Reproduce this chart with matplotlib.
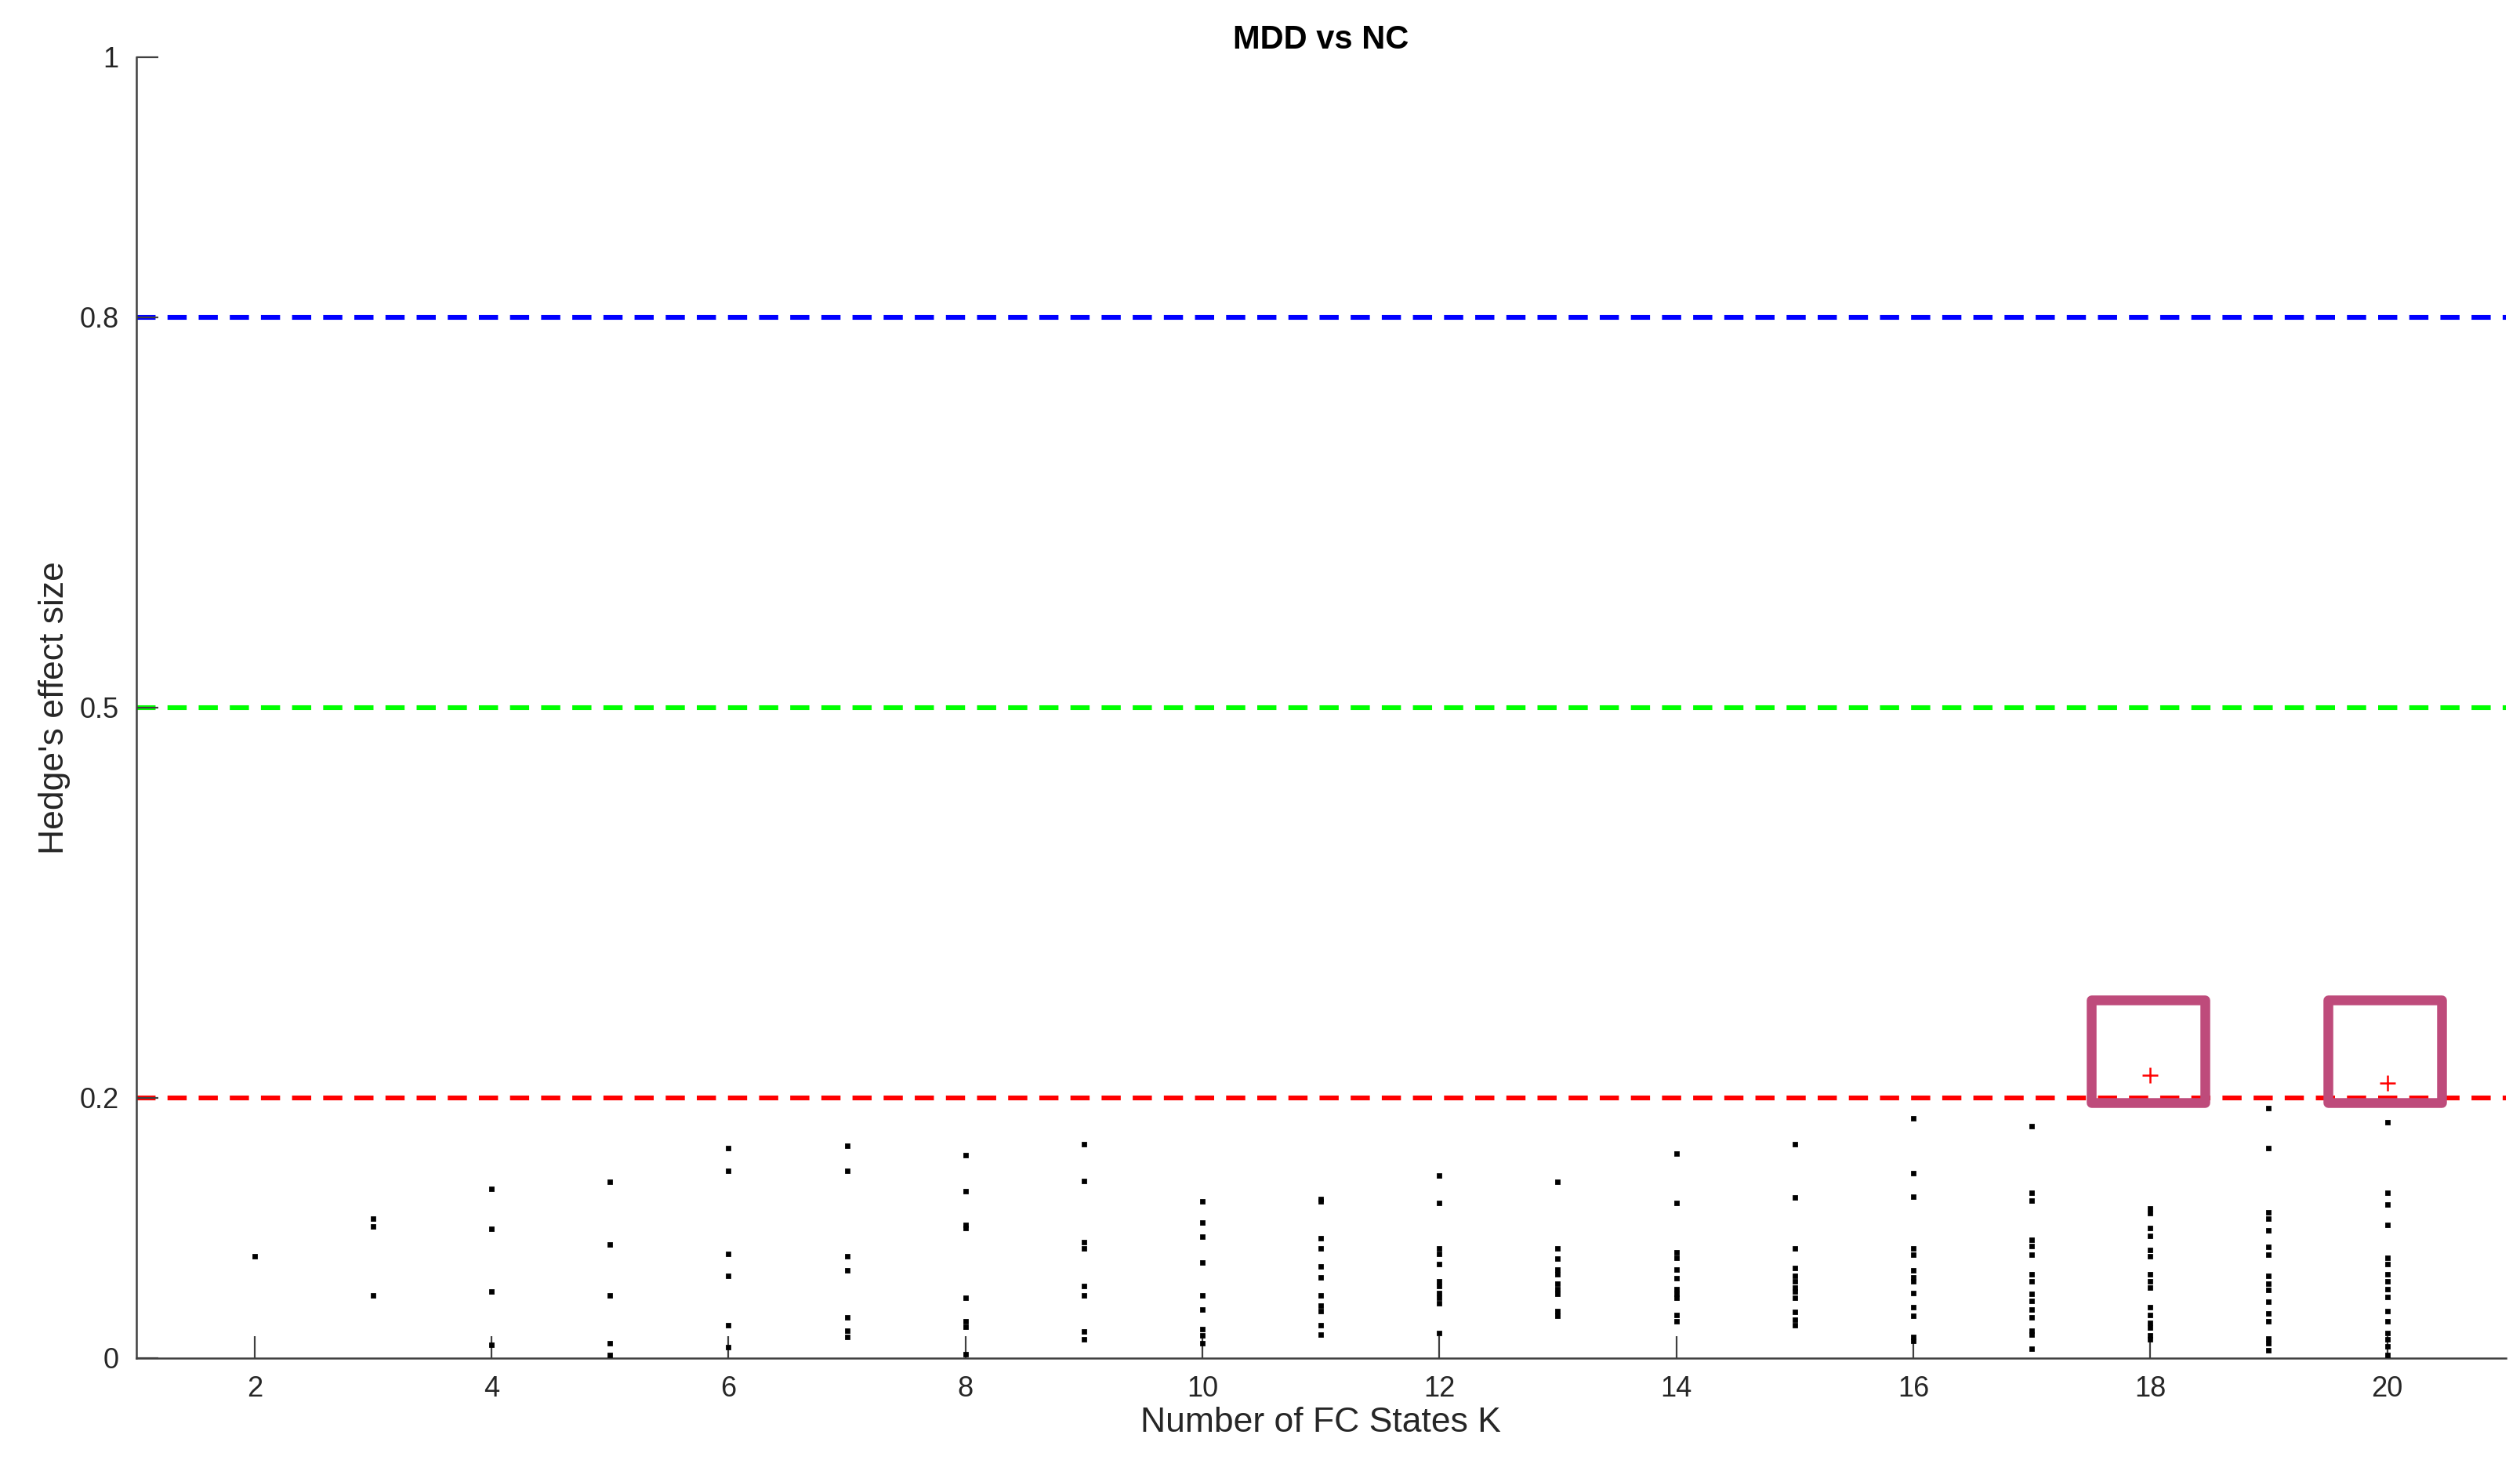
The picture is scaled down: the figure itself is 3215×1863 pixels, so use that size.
import matplotlib
matplotlib.use("Agg")
import matplotlib.pyplot as plt
from matplotlib.patches import Rectangle

plt.rcParams["font.family"] = ["Liberation Sans", "DejaVu Sans"]

# Effect sizes per number of states K.
k_values = list(range(2, 21))
effects = [
    [0.078],
    [0.107, 0.101, 0.048],
    [0.130, 0.099, 0.051, 0.010],
    [0.135, 0.087, 0.048, 0.011, 0.002],
    [0.161, 0.144, 0.080, 0.063, 0.025, 0.008],
    [0.163, 0.144, 0.078, 0.067, 0.031, 0.021, 0.016],
    [0.156, 0.128, 0.102, 0.100, 0.046, 0.028, 0.024, 0.003],
    [0.164, 0.136, 0.089, 0.084, 0.055, 0.048, 0.020, 0.014],
    [0.120, 0.104, 0.093, 0.073, 0.048, 0.037, 0.022, 0.017, 0.011],
    [0.122, 0.120, 0.092, 0.084, 0.070, 0.062, 0.048, 0.040, 0.036, 0.025, 0.018],
    [0.140, 0.119, 0.084, 0.080, 0.072, 0.059, 0.055, 0.050, 0.046, 0.042, 0.019],
    [0.135, 0.084, 0.076, 0.068, 0.064, 0.057, 0.053, 0.049, 0.036, 0.032],
    [0.157, 0.119, 0.081, 0.077, 0.068, 0.061, 0.053, 0.049, 0.046, 0.033, 0.028],
    [0.164, 0.123, 0.084, 0.069, 0.063, 0.059, 0.054, 0.051, 0.046, 0.035, 0.029, 0.025],
    [0.184, 0.142, 0.124, 0.084, 0.079, 0.067, 0.062, 0.059, 0.050, 0.039, 0.032, 0.016, 0.013],
    [0.178, 0.127, 0.121, 0.091, 0.086, 0.079, 0.064, 0.059, 0.049, 0.044, 0.037, 0.031,
     0.021, 0.018, 0.007],
    [0.115, 0.111, 0.100, 0.094, 0.083, 0.078, 0.064, 0.059, 0.054, 0.039, 0.033, 0.027,
     0.023, 0.017, 0.014],
    [0.192, 0.161, 0.112, 0.107, 0.098, 0.085, 0.079, 0.063, 0.057, 0.052, 0.043, 0.034,
     0.028, 0.015, 0.011, 0.006],
    [0.181, 0.127, 0.118, 0.102, 0.077, 0.072, 0.064, 0.059, 0.053, 0.047, 0.036, 0.028,
     0.019, 0.014, 0.009, 0.002],
]
# Significant results (red plus).
sig_k = [18, 20]
sig_effects = [0.217, 0.211]

thresholds = [0.2, 0.5, 0.8]
threshold_colors = ["#ff0000", "#00ff00", "#0000ff"]

fig = plt.figure(figsize=(16.08, 9.315), dpi=200)
ax = fig.add_axes([0.054, 0.070, 0.940, 0.891])

for t, c in zip(thresholds, threshold_colors):
    ax.axhline(t, color=c, lw=2.2, ls=(0, (4, 2.5)), zorder=1)

xs, ys = [], []
for k, vals in zip(k_values, effects):
    xs += [k] * len(vals)
    ys += vals
ax.plot(xs, ys, ls="none", marker="s", ms=1.6, color="black", zorder=3)
ax.plot(sig_k, sig_effects, ls="none", marker="+", ms=7, mew=0.9, color="red", zorder=3)

# Highlight boxes around the significant points.
for k in sig_k:
    ax.add_patch(Rectangle((k - 0.5, 0.196), 0.96, 0.079, fill=False,
                           edgecolor="#be4b7b", lw=4.5, joinstyle="round", zorder=4))

ax.set_xlim(1, 21)
ax.set_ylim(0, 1)
ax.set_xticks(range(2, 21, 2))
ax.set_yticks([0, 0.2, 0.5, 0.8, 1])
ax.set_yticklabels(["0", "0.2", "0.5", "0.8", "1"])
ax.tick_params(direction="in", length=10, width=0.8, color="#404040",
               labelsize=13, labelcolor="#262626", pad=8)
for side in ["top", "right"]:
    ax.spines[side].set_visible(False)
for side in ["left", "bottom"]:
    ax.spines[side].set_color("#404040")
    ax.spines[side].set_linewidth(0.9)

ax.set_xlabel("Number of FC States K", fontsize=16, color="#262626", labelpad=2)
ax.set_ylabel("Hedge's effect size", fontsize=16, color="#262626", labelpad=4)
ax.set_title("MDD vs NC", fontsize=15, fontweight="bold", pad=4)

fig.savefig("out.png", dpi=200)
